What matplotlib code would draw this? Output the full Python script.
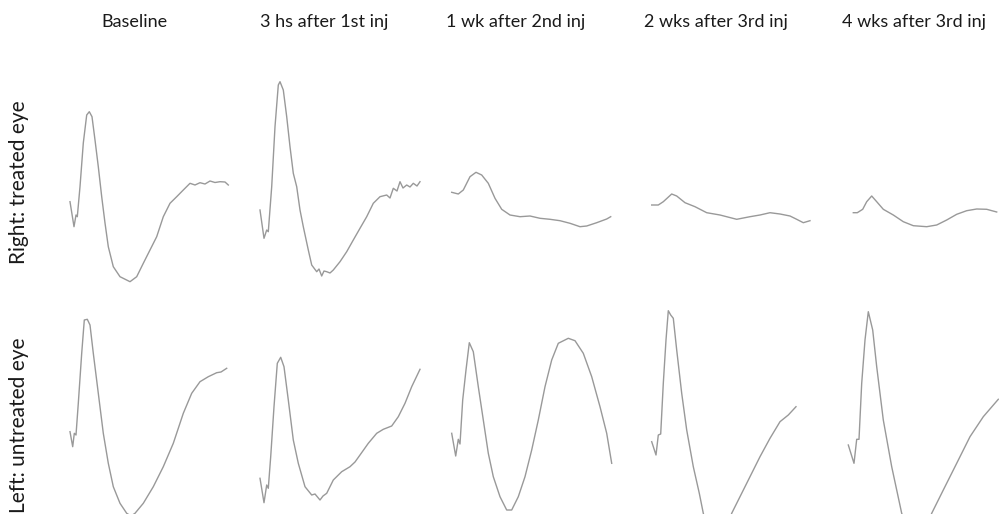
import matplotlib
matplotlib.use("Agg")
import matplotlib.pyplot as plt

# column headings and row labels
titles = ["Baseline", "3 hs after 1st inj", "1 wk after 2nd inj",
          "2 wks after 3rd inj", "4 wks after 3rd inj"]
row_labels = ["Right: treated eye", "Left: untreated eye"]

# ERG traces: time (arbitrary units) and amplitude
r_base_t = [5, 9, 11, 12.3, 15, 18.3, 21.7, 24.3, 27, 30, 33.3, 36.7, 40, 43.3, 48.3, 55, 65, 71.7,
            78.3, 85, 91.7, 98.3, 105, 111.7, 118.3, 125, 130, 135, 140, 145, 150, 155, 160, 163.3]
r_base_v = [-1.7, -26.7, -15, -16.7, 13.3, 57, 85, 88.3, 83.3, 60, 33.3, 3.3, -23, -46.7, -66.7, -76.7,
            -81.7, -76.7, -63.3, -50, -36.7, -16.7, -3.3, 3.3, 10, 16.7, 15, 17.3, 16, 19, 17.5, 18.3, 18, 15]

r_3h_t = [5, 9, 11.7, 13.3, 16.7, 20, 23.3, 25, 28.3, 31.7, 35, 38.3, 41.7, 45, 48.3, 53.3, 56.7, 61.7,
          64, 66.7, 69, 71.7, 75, 78.3, 85, 91.7, 98.3, 105, 111.7, 118.3, 125, 131.7, 135, 138.3,
          142, 145, 148, 151.7, 155, 158.3, 162, 165]
r_3h_v = [-10, -38.3, -30, -31.7, 13.3, 73.3, 115, 118.3, 110, 83.3, 53.3, 26.7, 13.3, -10, -26.7, -50,
          -65, -71.7, -69, -76, -71, -71.7, -73, -70, -61.7, -51.7, -40, -28.3, -16.7, -3.3, 3.3, 5, 2,
          11.7, 9, 18.3, 12, 15, 13, 16.7, 14, 18.3]

r_1wk_t = [4.7, 11.3, 16.3, 23, 29, 34.7, 41.3, 48, 54.7, 63, 73, 83, 93, 103, 113, 123, 133, 139.7,
           149.7, 159.7, 163.7]
r_1wk_v = [7.7, 6, 10, 23.3, 27.7, 25, 16.7, 1.7, -9.3, -15, -16.7, -16, -18.3, -19.3, -20.7, -23.3,
           -26.7, -26, -22.7, -19, -16.7]

r_2wk_t = [4.7, 11.3, 16.3, 24.7, 29.7, 38, 48, 59.7, 73, 89.7, 103, 113, 123, 133, 143, 149.7, 156.3, 163]
r_2wk_v = [-5, -5, -1.7, 6, 4, -2.7, -6.7, -12.7, -15, -19.3, -16.7, -15, -12.7, -14, -16, -19.3, -22.7, -20.7]

r_4wk_t = [8.3, 12.3, 17.7, 21.7, 26.7, 31.7, 38.3, 48.3, 58.3, 68.3, 81.7, 91.7, 101.7, 111.7, 121.7,
           131.7, 141.7, 151.7]
r_4wk_v = [-12.7, -12.7, -9.3, -1.7, 4, -1.7, -9.3, -15, -21.7, -25.7, -26.7, -25, -20, -14.3, -10.7,
           -9, -9.3, -12]

l_base_t = [5, 7.7, 9.3, 11, 13.3, 16.7, 19.3, 22.3, 25, 28.3, 33.3, 38.3, 43.3, 48.3, 55, 61.7, 66, 70,
            78.3, 88.3, 98.3, 108.3, 118.3, 126.7, 135, 143.3, 151.7, 156, 161.7]
l_base_v = [-1.7, -16.7, -3.3, -5, 26.7, 76.7, 110, 110.7, 105, 76.7, 36.7, -3.3, -33.3, -56.7, -73.3,
            -83.3, -86, -83.3, -73.3, -56.7, -36.7, -13.3, 16.7, 36.7, 48.3, 53.3, 57.3, 58, 61.7]

l_3h_t = [5, 9, 11.7, 13.3, 15.7, 19, 22.3, 25.7, 29, 33.3, 38.3, 43.3, 50, 56.7, 60, 65, 68, 71.7,
          78.3, 86.7, 95, 100, 105, 113.3, 121.7, 128.3, 136.7, 143.3, 150, 156.7, 165]
l_3h_v = [-48.3, -72.7, -55, -58.3, -26.7, 23.3, 66.7, 72.7, 63.3, 30, -10, -33.3, -56.7, -65, -64, -70,
          -66, -63.3, -50, -41.7, -36.7, -32, -25, -13.3, -3.3, 0.7, 4, 13.3, 26.7, 43.3, 60.7]

l_1wk_t = [4.7, 8.7, 11.3, 13, 15.7, 19, 22.3, 26.3, 31.3, 36.3, 41.3, 46.3, 53, 59.7, 64.7, 71.3, 78,
           84.7, 91.3, 98, 104.7, 111.3, 121.3, 128, 136.3, 144.7, 153, 159.7, 164.7]
l_1wk_v = [-3.3, -26, -9.3, -14, 30, 60, 87.3, 78.3, 43.3, 10, -23.3, -46.7, -66.7, -80, -80, -66.7,
           -46.7, -20, 10, 43.3, 70, 86.7, 91.7, 89.3, 76.7, 53.3, 23.3, -3.3, -33.3]

l_2wk_t = [4.7, 9, 11.3, 13.7, 16.3, 19, 21.3, 23.7, 26.3, 29.7, 34.7, 39.7, 46.3, 52.3, 56.3, 63, 71,
           78, 84.7, 93, 103, 113, 123, 133, 141.3, 149]
l_2wk_v = [-11.7, -25, -5, -4, 46.7, 90, 119.3, 115, 111.7, 80, 36.7, 0, -36.7, -63.3, -83.3, -105, -115,
           -105, -83.3, -66.7, -46.7, -26.7, -8.3, 8.3, 15, 23.3]

l_4wk_t = [3.3, 9, 11.7, 14, 16.7, 20, 23.3, 27.7, 31.7, 38.3, 46.7, 56.7, 65, 72, 79, 86.7, 98.3,
           111.7, 125, 138.3, 153.3]
l_4wk_v = [-15, -33.3, -9.3, -9.3, 46.7, 90, 118.3, 100, 63.3, 10, -36.7, -83.3, -105, -115, -105,
           -83.3, -60, -33.3, -6.7, 13.3, 30.7]

traces = [[(r_base_t, r_base_v), (r_3h_t, r_3h_v), (r_1wk_t, r_1wk_v), (r_2wk_t, r_2wk_v), (r_4wk_t, r_4wk_v)],
          [(l_base_t, l_base_v), (l_3h_t, l_3h_v), (l_1wk_t, l_1wk_v), (l_2wk_t, l_2wk_v), (l_4wk_t, l_4wk_v)]]

W, H = 999, 514
fig = plt.figure(figsize=(W / 100, H / 100), dpi=100)
fig.patch.set_facecolor("white")

col_left = [65, 255, 447, 647, 845]       # px
rows = [(60, 290, 200), (300, 514, 430)]  # top px, bottom px, zero-level px
panel_w = 170

for r, (top, bot, zero) in enumerate(rows):
    for c, x0 in enumerate(col_left):
        ax = fig.add_axes([x0 / W, 1 - bot / H, panel_w / W, (bot - top) / H])
        t, v = traces[r][c]
        ax.plot(t, v, color="#999999", lw=1.0, clip_on=False, solid_joinstyle="round")
        ax.set_xlim(0, panel_w)
        ax.set_ylim(zero - bot, zero - top)
        ax.axis("off")

for c, x0 in enumerate(col_left):
    fig.text((x0 + 69) / W, 1 - 22 / H, titles[c], ha="center", va="center",
             fontsize=13, family="Lato", color="#1a1a1a")

fig.text(19 / W, 1 - 182 / H, row_labels[0], rotation=90, ha="center", va="center",
         fontsize=15, family="Lato", color="#1a1a1a")
fig.text(19 / W, 1 - 425 / H, row_labels[1], rotation=90, ha="center", va="center",
         fontsize=15, family="Lato", color="#1a1a1a")

fig.savefig("out.png", dpi=100, facecolor="white")
